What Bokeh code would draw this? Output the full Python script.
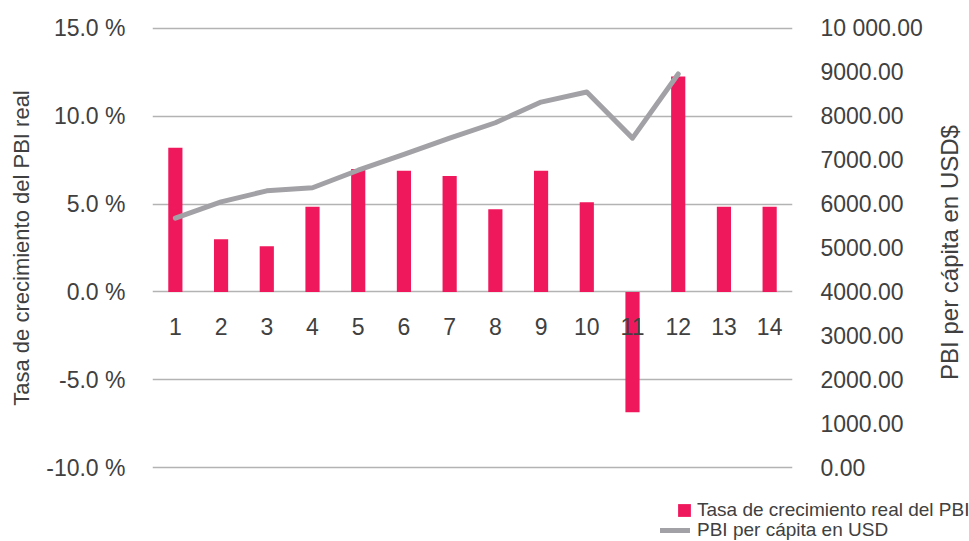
import math
from bokeh.plotting import figure
from bokeh.layouts import column, row
from bokeh.models import (FactorRange, Range1d, LinearAxis, FixedTicker, Legend, LegendItem, Label)
from bokeh.core.properties import value
from bokeh.embed import file_html
from bokeh.resources import INLINE

# ---- data ----
categories = ["1", "2", "3", "4", "5", "6", "7", "8", "9", "10", "11", "12", "13", "14"]
growth_rate = [8.2, 3.0, 2.6, 4.85, 7.0, 6.9, 6.6, 4.7, 6.9, 5.1, -6.85, 12.25, 4.85, 4.85]
usd_categories = ["1", "2", "3", "4", "5", "6", "7", "8", "9", "10", "11", "12"]
gdp_per_capita = [5680, 6050, 6300, 6370, 6770, 7130, 7500, 7850, 8320, 8550, 7500, 8960]
left_ticks = [-10, -5, 0, 5, 10, 15]
left_labels = ["-10.0 %", "-5.0 %", "0.0 %", "5.0 %", "10.0 %", "15.0 %"]
right_ticks = [0, 1000, 2000, 3000, 4000, 5000, 6000, 7000, 8000, 9000, 10000]
right_labels = ["0.00", "1000.00", "2000.00", "3000.00", "4000.00", "5000.00",
                "6000.00", "7000.00", "8000.00", "9000.00", "10 000.00"]
series_names = ["Tasa de crecimiento real del PBI", "PBI per cápita en USD"]
left_title = "Tasa de crecimiento del PBI real"
right_title = "PBI per cápita en USD$"

FONT = "Liberation Sans"
TXT = "#404040"
PINK = "#ef185c"
GRAY = "#a2a2a6"

p = figure(width=935, height=500, output_backend="svg", toolbar_location=None,
           x_range=FactorRange(factors=categories, range_padding=0),
           y_range=Range1d(-10.1, 15.1),
           min_border_left=152, min_border_right=143, min_border_top=26, min_border_bottom=31)
p.outline_line_color = None
p.extra_y_ranges = {"usd": Range1d(-40, 10040)}

bar_style = dict(color=PINK, line_color=None)
line_style = dict(line_width=5, line_color=GRAY, line_join="round", line_cap="round")

p.vbar(x=categories, top=growth_rate, bottom=0, width=0.31, **bar_style)
p.line(x=usd_categories, y=gdp_per_capita, y_range_name="usd", **line_style)

# category labels sitting under the zero line
p.text(x=categories, y=[0] * len(categories), text=categories, y_offset=26,
       text_align="center", text_baseline="top", text_font=value(FONT),
       text_font_size="23px", text_color=TXT)

p.xaxis.visible = False
p.xgrid.visible = False
p.ygrid.ticker = FixedTicker(ticks=left_ticks)
p.ygrid.grid_line_color = "#b3b3b3"
p.ygrid.grid_line_width = 1.6

ly = p.yaxis[0]
ly.ticker = FixedTicker(ticks=left_ticks)
ly.major_label_overrides = {t: l for t, l in zip(left_ticks, left_labels)}
ry = LinearAxis(y_range_name="usd", ticker=FixedTicker(ticks=right_ticks))
ry.major_label_overrides = {t: l for t, l in zip(right_ticks, right_labels)}
p.add_layout(ry, "right")

for ax in (ly, ry):
    ax.axis_line_color = None
    ax.major_tick_line_color = None
    ax.minor_tick_line_color = None
    ax.major_tick_out = 0
    ax.minor_tick_out = 0
    ax.major_label_text_font = FONT
    ax.major_label_text_font_size = "23px"
    ax.major_label_text_color = TXT
ly.major_label_standoff = 27
ry.major_label_standoff = 28
ly.axis_label = left_title
ly.axis_label_text_font = FONT
ly.axis_label_text_font_size = "22px"
ly.axis_label_text_font_style = "normal"
ly.axis_label_text_color = TXT
ly.axis_label_standoff = 9

# ---- right title strip (reads bottom-to-top) ----
tp = figure(width=34, height=500, output_backend="svg", toolbar_location=None,
            x_axis_type=None, y_axis_type=None,
            x_range=Range1d(0, 34), y_range=Range1d(0, 500),
            min_border_left=0, min_border_right=0, min_border_top=0, min_border_bottom=0)
tp.outline_line_color = None
tp.grid.visible = False
tp.add_layout(Label(x=14, y=217, x_units="screen", y_units="screen", text=right_title,
                    angle=math.pi / 2, text_align="center", text_baseline="middle",
                    text_font=FONT, text_font_size="24px", text_color=TXT))

# ---- legend strip below the chart ----
lp = figure(width=969, height=41, output_backend="svg", toolbar_location=None,
            x_axis_type=None, y_axis_type=None,
            x_range=Range1d(0, 969), y_range=Range1d(20000, 20041),
            min_border_left=0, min_border_right=0, min_border_top=0, min_border_bottom=0)
lp.outline_line_color = None
lp.grid.visible = False
# key renderers reuse the series (they fall outside this strip's range, only their legend keys show)
bar_key = lp.vbar(x=[int(c) for c in categories], top=growth_rate, bottom=0, width=0.3, **bar_style)
line_key = lp.line(x=[int(c) for c in usd_categories], y=gdp_per_capita, **line_style)

leg1 = Legend(items=[LegendItem(label=series_names[0], renderers=[bar_key])],
              location=(676, 20), glyph_width=16, glyph_height=16, label_standoff=5)
leg2 = Legend(items=[LegendItem(label=series_names[1], renderers=[line_key])],
              location=(660, 0), glyph_width=30, glyph_height=16, label_standoff=7)
for lg in (leg1, leg2):
    lg.padding = 0
    lg.margin = 0
    lg.spacing = 0
    lg.label_height = 20
    lg.border_line_color = None
    lg.background_fill_alpha = 0
    lg.label_text_font = FONT
    lg.label_text_font_size = "19px"
    lg.label_text_color = TXT
    lp.add_layout(lg, "center")

layout = column(row(p, tp, spacing=0), lp, spacing=0)
open("out.html", "w").write(file_html(layout, INLINE))
